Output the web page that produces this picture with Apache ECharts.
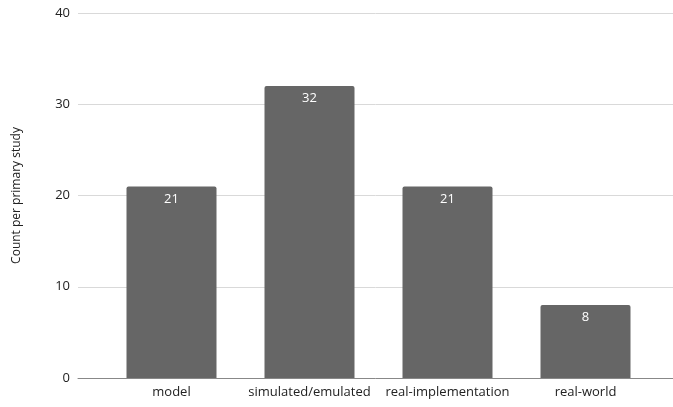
<!DOCTYPE html>
<html><head><meta charset="utf-8">
<script src="https://cdn.jsdelivr.net/npm/echarts@6/dist/echarts.min.js"></script>
<style>html,body{margin:0;padding:0;background:#fff}#c{width:673px;height:407px}</style>
</head><body><div id="c"></div>
<script>
const categories = ['model', 'simulated/emulated', 'real-implementation', 'real-world'];
const counts = [21, 32, 21, 8];
const yTicks = [0, 10, 20, 30, 40];
const yName = 'Count per primary study';

const chart = echarts.init(document.getElementById('c'));
const font = '"Open Sans", sans-serif';
chart.setOption({
  animation: false,
  textStyle: { fontFamily: font },
  grid: [
    { left: 102.5, right: 18.5, top: 13, bottom: 29 },
    { left: 78, right: 0, top: 13, bottom: 29 }
  ],
  xAxis: [
    { type: 'category', gridIndex: 0, data: categories,
      axisLine: { show: false }, axisTick: { show: false },
      axisLabel: { interval: 0, color: '#222', fontSize: 13, margin: 8, fontFamily: font } },
    { type: 'value', gridIndex: 1, min: 0, max: 1,
      axisLine: { show: true, lineStyle: { color: '#888', width: 1 } },
      axisTick: { show: false }, axisLabel: { show: false }, splitLine: { show: false } }
  ],
  yAxis: [
    { type: 'value', gridIndex: 0, min: yTicks[0], max: yTicks[yTicks.length - 1], interval: 10,
      show: false },
    { type: 'value', gridIndex: 1, min: yTicks[0], max: yTicks[yTicks.length - 1], interval: 10,
      name: yName, nameLocation: 'middle', nameGap: 55,
      nameTextStyle: { color: '#222', fontSize: 12, fontFamily: font },
      axisLine: { show: false }, axisTick: { show: false },
      axisLabel: { color: '#222', fontSize: 13, margin: 8, fontFamily: font },
      splitLine: { lineStyle: { color: '#d9d9d9', width: 1 } } }
  ],
  series: [{
    type: 'bar', xAxisIndex: 0, yAxisIndex: 0, data: counts, barWidth: 90,
    itemStyle: { color: '#666666', borderRadius: [2, 2, 0, 0] },
    label: { show: true, position: 'insideTop', distance: 6, color: '#fff', fontSize: 13, fontFamily: font }
  }]
});
</script></body></html>
